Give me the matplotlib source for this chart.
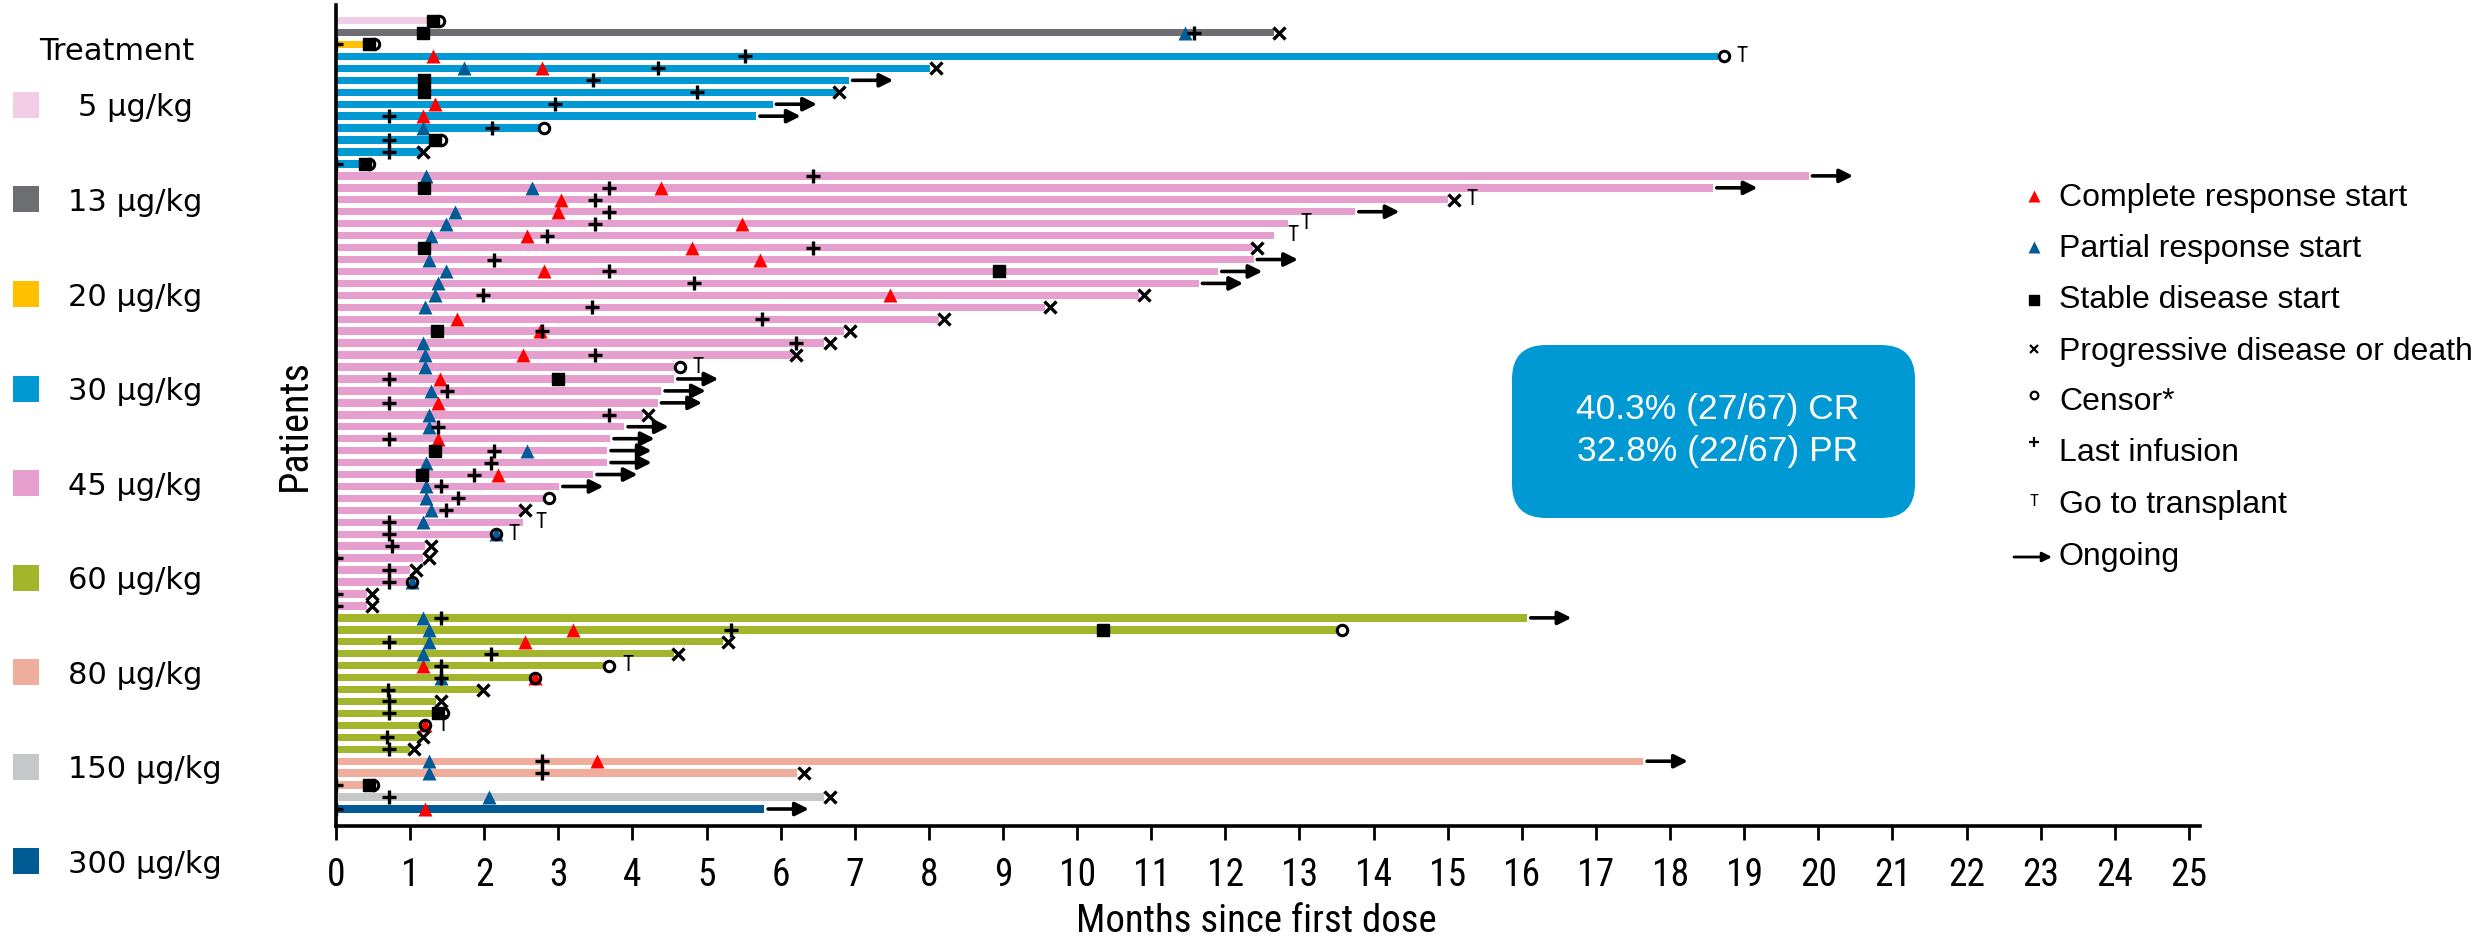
import matplotlib
matplotlib.use("Agg")
import matplotlib.pyplot as plt
from matplotlib import font_manager as fm
from matplotlib.patches import FancyBboxPatch, Rectangle

W, H = 2486, 946
SANS = ["Liberation Sans", "DejaVu Sans"]


def narrow_props(size):
    # pick an installed narrow/condensed face for the axis text
    prefs = ["Liberation Sans Narrow", "Arial Narrow", "Roboto Condensed",
             "Open Sans Condensed", "DejaVu Sans", "Noto Sans"]
    found = {}
    for f in fm.fontManager.ttflist:
        narrow = ("Narrow" in f.name or "Condensed" in f.name
                  or "condensed" in str(f.stretch))
        if narrow and f.style == "normal" and f.weight in (400, "normal", "regular"):
            found.setdefault(f.name, f.fname)
    for name in prefs:
        if name in found:
            return fm.FontProperties(fname=found[name], size=size), True
    if found:
        return fm.FontProperties(fname=next(iter(found.values())), size=size), True
    return fm.FontProperties(family=SANS, size=size * 0.85), False


# dose cohorts, top to bottom
doses = ["5 µg/kg", "13 µg/kg", "20 µg/kg", "30 µg/kg", "45 µg/kg",
         "60 µg/kg", "80 µg/kg", "150 µg/kg", "300 µg/kg"]
dose_colors = ["#F2CDE6", "#6D6E71", "#FFC000", "#0099D4", "#E69ECF",
               "#A2B52B", "#F0AD9C", "#C6C7C9", "#005B94"]
n_patients = [1, 1, 1, 10, 37, 12, 3, 1, 1]

# months on study, one entry per patient (plot order)
duration = [
    1.28,                                                        # 5
    12.65,                                                       # 13
    0.43,                                                        # 20
    18.65, 8.02, 6.92, 6.76, 5.89, 5.67, 2.75, 1.32, 1.17, 0.37, # 30
    19.87, 18.58, 15.0, 13.75, 12.84, 12.66, 12.37, 12.38, 11.9, 11.64,
    10.84, 9.57, 8.14, 6.85, 6.58, 6.16, 4.56, 4.56, 4.39, 4.34,
    4.14, 3.89, 3.70, 3.66, 3.66, 3.47, 3.01, 2.81, 2.51, 2.52,
    2.12, 1.2, 1.17, 1.0, 0.98, 0.42, 0.42,                      # 45
    16.07, 13.53, 5.22, 4.56, 3.63, 2.66, 1.95, 1.35, 1.35, 1.17,
    1.13, 1.0,                                                   # 60
    17.64, 6.22, 0.42,                                           # 80
    6.58,                                                        # 150
    5.78,                                                        # 300
]

# event times keyed by patient row
cr_start = {3: 1.31, 4: 2.78, 7: 1.34, 8: 1.17,
            14: 4.38, 15: 3.04, 16: 3.0, 17: 5.48, 18: 2.58, 19: 4.8, 20: 5.72,
            21: 2.81, 23: 7.48, 25: 1.63, 26: 2.75, 28: 2.52, 30: 1.4, 32: 1.37,
            35: 1.37, 38: 2.19,
            51: 3.2, 52: 2.55, 54: 1.17, 55: 2.68, 59: 1.2,
            62: 3.52, 66: 1.2}
pr_start = {1: 11.46, 4: 1.73, 9: 1.17,
            13: 1.22, 14: 2.65, 16: 1.6, 17: 1.48, 18: 1.28, 20: 1.25, 21: 1.48,
            22: 1.37, 23: 1.34, 24: 1.2, 27: 1.17, 28: 1.2, 29: 1.2, 31: 1.28,
            33: 1.25, 34: 1.25, 36: 2.58, 37: 1.22, 39: 1.22, 40: 1.22, 41: 1.28,
            42: 1.17, 43: 2.16, 47: 1.02,
            50: 1.17, 51: 1.25, 52: 1.25, 53: 1.17, 55: 1.41,
            62: 1.25, 63: 1.25, 65: 2.06}
sd_start = {0: 1.31, 1: 1.17, 2: 0.45, 5: 1.19, 6: 1.19, 10: 1.34, 12: 0.39,
            14: 1.19, 19: 1.19, 21: 8.95, 26: 1.36, 30: 2.99, 36: 1.33, 38: 1.16,
            51: 10.35, 58: 1.37, 64: 0.44}
pd_time = {1: 12.72, 4: 8.1, 6: 6.79, 11: 1.17,
           15: 15.08, 19: 12.42, 23: 10.9, 24: 9.63, 25: 8.2, 26: 6.93, 27: 6.67,
           28: 6.2, 33: 4.21, 41: 2.55, 44: 1.28, 45: 1.25, 46: 1.08, 48: 0.49,
           49: 0.49,
           52: 5.29, 53: 4.61, 56: 1.99, 57: 1.41, 60: 1.17, 61: 1.05,
           63: 6.31, 65: 6.67}
censor = {0: 1.39, 2: 0.51, 3: 18.73, 9: 2.81, 10: 1.42, 12: 0.45,
          29: 4.64, 40: 2.87, 43: 2.16, 47: 1.02,
          51: 13.57, 54: 3.69, 55: 2.68, 58: 1.44, 59: 1.2, 64: 0.5}
last_infusion = {1: 11.58, 2: 0.0, 3: 5.52, 4: 4.35, 5: 3.47, 6: 4.87, 7: 2.95,
                 8: 0.72, 9: 2.10, 10: 0.72, 11: 0.72, 12: 0.0,
                 13: 6.43, 14: 3.69, 15: 3.5, 16: 3.69, 17: 3.5, 18: 2.85,
                 19: 6.43, 20: 2.13, 21: 3.69, 22: 4.83, 23: 1.99, 24: 3.46,
                 25: 5.75, 26: 2.78, 27: 6.2, 28: 3.5, 30: 0.72, 31: 1.5,
                 32: 0.72, 33: 3.69, 34: 1.37, 35: 0.72, 36: 2.13, 37: 2.09,
                 38: 1.86, 39: 1.41, 40: 1.64, 41: 1.48, 42: 0.72, 43: 0.72,
                 44: 0.75, 45: 0.0, 46: 0.72, 47: 0.72, 48: 0.0, 49: 0.0,
                 50: 1.41, 51: 5.33, 52: 0.72, 53: 2.09, 54: 1.41, 55: 1.41,
                 56: 0.7, 57: 0.72, 58: 0.72, 60: 0.69, 61: 0.72,
                 62: 2.78, 63: 2.78, 64: 0.0, 65: 0.72, 66: 0.0}
transplant = [3, 15, 17, 18, 29, 42, 43, 54, 59]
ongoing = [5, 7, 8, 13, 14, 16, 20, 21, 22, 30, 31, 32, 34, 35, 36, 37, 38, 39,
           50, 62, 66]

legend_items = ["Complete response start", "Partial response start",
                "Stable disease start", "Progressive disease or death",
                "Censor*", "Last infusion", "Go to transplant", "Ongoing"]
summary = ["40.3% (27/67) CR", "32.8% (22/67) PR"]

cohort = [i for i, n in enumerate(n_patients) for _ in range(n)]
rows = list(range(len(duration)))

tick_fp, _ = narrow_props(27)
label_fp, _ = narrow_props(28)
ylab_fp, _ = narrow_props(29)
t_fp, _ = narrow_props(15.5)
t_leg_fp, _ = narrow_props(12.5)

fig = plt.figure(figsize=(W / 100, H / 100), dpi=100)

# ---- swimmer lanes ----
row_px = 11.95
ax = fig.add_axes([336 / W, (H - 826) / H, (2200 - 336) / W, (826 - 5) / H])
ax.set_xlim(0, 25.15)
ax.set_ylim(66 + (826 - 809) / row_px, -(20.6 - 5) / row_px)

ax.barh(rows, duration, height=0.62, left=0,
        color=[dose_colors[c] for c in cohort], linewidth=0, zorder=1)


def plot_events(events, **kw):
    pts = sorted(events.items())
    ax.plot([t for _, t in pts], [p for p, _ in pts], ls="none", **kw)


plot_events(cr_start, marker="^", ms=10.5, color="#FF0000", mec="none", zorder=3)
plot_events(pr_start, marker="^", ms=10.5, color="#005B96", mec="none", zorder=3)
plot_events(sd_start, marker="s", ms=8.5, color="black", zorder=3)
plot_events(last_infusion, marker="+", ms=10, mew=2.4, color="black", zorder=4)
plot_events(pd_time, marker="x", ms=8.5, mew=2.4, color="black", zorder=4)
plot_events(censor, marker="o", ms=7.5, mew=2.2, mfc="none", mec="black", zorder=5)

for p in ongoing:
    ax.annotate("", xy=(duration[p] + 0.6, p), xytext=(duration[p] + 0.05, p),
                arrowprops=dict(arrowstyle="-|>", color="black", lw=2.6,
                                mutation_scale=20, shrinkA=0, shrinkB=0),
                zorder=4)

for p in transplant:
    end = max([duration[p], censor.get(p, 0), pd_time.get(p, 0)])
    ax.text(end + 0.17, p, "T", fontproperties=t_fp,
            va="center", ha="left", zorder=5)

ax.spines["top"].set_visible(False)
ax.spines["right"].set_visible(False)
ax.spines["left"].set_linewidth(2.6)
ax.spines["bottom"].set_linewidth(2.6)
ax.set_yticks([])
ax.set_xticks(range(26))
ax.set_xticklabels([str(i) for i in range(26)], fontproperties=tick_fp)
ax.tick_params(axis="x", length=10, width=2, pad=12)

# ---- figure-level annotations in pixel coordinates ----
ov = fig.add_axes([0, 0, 1, 1])
ov.set_xlim(0, W)
ov.set_ylim(H, 0)
ov.axis("off")
ov.patch.set_alpha(0)

ov.text(1256, 921, "Months since first dose", fontproperties=label_fp,
        ha="center", va="center")
ov.text(294, 425, "Patients", fontproperties=ylab_fp, rotation=90,
        ha="center", va="center")

# treatment key
ov.text(117, 52, "Treatment", fontsize=22, ha="center", va="center")
for i, (lab, col) in enumerate(zip(doses, dose_colors)):
    yc = 105 + 94.5 * i
    ov.add_patch(Rectangle((13, yc - 13), 26, 26, color=col, lw=0))
    ov.text(78 if i == 0 else 68, yc + 3, lab, fontsize=22, ha="left", va="center")

# event key
ly = [198, 249, 300, 352, 402, 453, 505, 557]
mx = 2034
ov.plot(mx, ly[0] - 2, marker="^", ms=8, color="#FF0000", mec="none")
ov.plot(mx, ly[1] - 2, marker="^", ms=8, color="#005B96", mec="none")
ov.plot(mx, ly[2], marker="s", ms=6.5, color="black")
ov.plot(mx, ly[3] - 3, marker="x", ms=6, mew=1.6, color="black")
ov.plot(mx, ly[4] - 7, marker="o", ms=5.5, mew=1.6, mfc="none", mec="black")
ov.plot(mx, ly[5] - 11, marker="+", ms=7.5, mew=1.6, color="black")
ov.text(mx, ly[6] - 4, "T", fontproperties=t_leg_fp, ha="center", va="center")
ov.annotate("", xy=(2052, ly[7]), xytext=(2014, ly[7]),
            arrowprops=dict(arrowstyle="-|>", color="black", lw=2,
                            mutation_scale=14, shrinkA=0, shrinkB=0))
for y, lab in zip(ly, legend_items):
    ov.text(2059, y, lab, fontsize=23, family=SANS, ha="left", va="center")

# response summary box
ov.add_patch(FancyBboxPatch((1512, 345), 403, 173,
                            boxstyle="round,pad=0,rounding_size=34",
                            fc="#0099D4", ec="none"))
ov.text(1718, 409, summary[0], fontsize=25.5, family=SANS, color="white",
        ha="center", va="center")
ov.text(1718, 451, summary[1], fontsize=25.5, family=SANS, color="white",
        ha="center", va="center")

fig.savefig("out.png", dpi=100)
